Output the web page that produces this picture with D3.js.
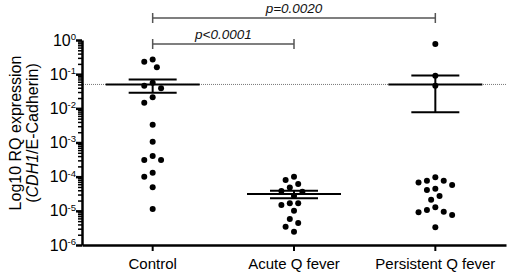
<!DOCTYPE html>
<html>
<head>
<meta charset="utf-8">
<script src="https://cdn.jsdelivr.net/npm/d3@7"></script>
<style>
  body { margin: 0; background: #fff; }
  svg { display: block; font-family: Arial, "Liberation Sans", sans-serif; }
</style>
</head>
<body>
<div id="chart"></div>
<script>
// groups on the x axis
const groups = ["Control", "Acute Q fever", "Persistent Q fever"];

// RQ values
const control = [0.27, 0.23, 0.16, 0.056, 0.046, 0.039, 0.021, 0.0146, 0.0033, 0.00105,
  0.0004, 0.00031, 0.00031, 0.00013, 0.0001, 0.000049, 0.0000113];
const acute = [1.0e-4, 8.0e-5, 6.1e-5, 4.8e-5, 3.8e-5, 3.6e-5, 2.7e-5, 1.66e-5, 1.66e-5,
  1.48e-5, 1.0e-5, 5.8e-6, 4.4e-6, 3.4e-6, 2.45e-6];
const persistent = [0.76, 0.09, 0.046, 9.6e-5, 7.6e-5, 7.6e-5, 6.7e-5, 5.7e-5, 4.4e-5,
  4.1e-5, 2.7e-5, 2.1e-5, 1.27e-5, 1.06e-5, 9.4e-6, 9.1e-6, 7.6e-6, 3.3e-6];

const yTicks = [1e-6, 1e-5, 1e-4, 1e-3, 1e-2, 1e-1, 1];
const cutoff = 0.05;

// significance brackets
const compFrom = ["Control", "Control"];
const compTo = ["Acute Q fever", "Persistent Q fever"];
const compLabel = ["p<0.0001", "p=0.0020"];

const width = 510, height = 274;

const svg = d3.select("#chart").append("svg")
  .attr("width", width)
  .attr("height", height);

const x = d3.scaleBand()
  .domain(groups)
  .range([82, 506]);

const y = d3.scaleLog()
  .domain([1e-6, 1])
  .range([245, 40]);

const cx = g => x(g) + x.bandwidth() / 2;

// minor ticks 2..9 in every decade
const minor = [];
for (let e = -6; e < 0; e++) {
  for (let m = 2; m <= 9; m++) minor.push(m * Math.pow(10, e));
}

// dotted cutoff line
svg.append("line")
  .attr("x1", 83).attr("x2", 506)
  .attr("y1", y(cutoff)).attr("y2", y(cutoff))
  .attr("stroke", "#777")
  .attr("stroke-width", 1)
  .attr("stroke-dasharray", "1,1");

// y axis: minor ticks
svg.append("g")
  .attr("transform", "translate(82,0)")
  .call(d3.axisLeft(y).tickValues(minor).tickSize(4).tickFormat(""))
  .call(g => g.select(".domain").remove())
  .selectAll("line").attr("stroke-width", 1.5);

// y axis: major ticks + labels
const yAxis = svg.append("g")
  .attr("transform", "translate(82,0)")
  .call(d3.axisLeft(y).tickValues(yTicks).tickSize(6).tickSizeOuter(0).tickPadding(0).tickFormat(""));
yAxis.select(".domain").attr("stroke-width", 2.5);
yAxis.selectAll(".tick line").attr("stroke-width", 2.5);
yAxis.selectAll(".tick text")
  .attr("font-size", 16)
  .attr("fill", "#000")
  .each(function(d) {
    const t = d3.select(this);
    t.append("tspan").text("10");
    t.append("tspan")
      .attr("font-size", 9.5)
      .attr("dy", "-0.6em")
      .text(Math.round(Math.log10(d)));
  });

// x axis
const xAxis = svg.append("g")
  .attr("transform", "translate(0,245)")
  .call(d3.axisBottom(x).tickSize(6).tickSizeOuter(0).tickPadding(7));
xAxis.select(".domain").attr("stroke-width", 2.5);
xAxis.selectAll(".tick line").attr("stroke-width", 2);
xAxis.selectAll(".tick text").attr("font-size", 15).attr("fill", "#000");

// y label
const yl = svg.append("text")
  .attr("transform", "translate(0,133) rotate(-90)")
  .attr("text-anchor", "middle")
  .attr("font-size", 16);
yl.append("tspan").attr("x", 0).attr("y", 15).attr("dy", "0.35em").text("Log10 RQ expression");
const l2 = yl.append("tspan").attr("x", 0).attr("y", 32).attr("dy", "0.35em");
l2.append("tspan").text("(");
l2.append("tspan").attr("font-style", "italic").text("CDH1");
l2.append("tspan").text("/E-Cadherin)");

// simple beeswarm so dots don't overlap
function swarm(vals, c) {
  const step = 4.2, minD = 8.2;
  const placed = [];
  vals.map(v => ({ v: v, y: y(v) }))
    .sort((a, b) => a.y - b.y)
    .forEach(p => {
      for (let k = 0; k < 40; k++) {
        const off = k === 0 ? 0 : (k % 2 ? -1 : 1) * Math.ceil(k / 2) * step;
        if (placed.every(q => Math.hypot(q.x - (c + off), q.y - p.y) >= minD)) {
          p.x = c + off;
          break;
        }
      }
      placed.push(p);
    });
  return placed;
}

const series = [control, acute, persistent];

series.forEach((vals, i) => {
  const c = cx(groups[i]);
  const pts = swarm(vals, c);

  svg.append("g").selectAll("circle")
    .data(pts)
    .join("circle")
      .attr("cx", d => d.x)
      .attr("cy", d => d.y)
      .attr("r", 3)
      .attr("fill", "#000");

  // mean +/- SEM
  const m = d3.mean(vals);
  const sem = d3.deviation(vals) / Math.sqrt(vals.length);
  const g = svg.append("g").attr("stroke", "#000").attr("stroke-width", 2);
  g.append("line").attr("x1", c - 47).attr("x2", c + 47).attr("y1", y(m)).attr("y2", y(m));
  g.append("line").attr("x1", c).attr("x2", c).attr("y1", y(m + sem)).attr("y2", y(m - sem));
  g.append("line").attr("x1", c - 24).attr("x2", c + 24).attr("y1", y(m + sem)).attr("y2", y(m + sem));
  g.append("line").attr("x1", c - 24).attr("x2", c + 24).attr("y1", y(m - sem)).attr("y2", y(m - sem));
});

// brackets
const bracketY = [44, 18];
compLabel.forEach((lab, i) => {
  const x1 = cx(compFrom[i]), x2 = cx(compTo[i]), by = bracketY[i];
  const b = svg.append("g").attr("stroke", "#555").attr("stroke-width", 1.5);
  b.append("line").attr("x1", x1).attr("x2", x2).attr("y1", by).attr("y2", by);
  b.append("line").attr("x1", x1).attr("x2", x1).attr("y1", by - 5).attr("y2", by + 5);
  b.append("line").attr("x1", x2).attr("x2", x2).attr("y1", by - 5).attr("y2", by + 5);
  svg.append("text")
    .attr("x", (x1 + x2) / 2)
    .attr("y", by - 5)
    .attr("text-anchor", "middle")
    .attr("font-size", 13.5)
    .attr("font-style", "italic")
    .attr("fill", "#111")
    .text(lab);
});
</script>
</body>
</html>
